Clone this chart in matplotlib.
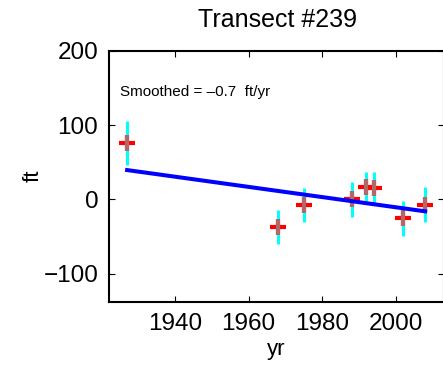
import matplotlib
matplotlib.use("Agg")
import numpy as np
from matplotlib import pyplot as plt

plt.rcParams["font.family"] = ["Liberation Sans", "DejaVu Sans"]

# shoreline positions per survey year
years = [1927, 1968, 1975, 1988, 1992, 1994, 2002, 2008]
position_ft = [76, -37, -8, 0, 17, 16, -25, -7]
error_ft = [30, 23, 23, 23, 20, 21, 23.5, 23.5]

# smoothed rate line (endpoints)
trend_years = [1927, 2008]
trend_ft = [39.5, -16]
rate_label = "Smoothed = \u20130.7  ft/yr"

fig = plt.figure(figsize=(4.43, 3.72), dpi=100)
ax = fig.add_axes([0.2467, 0.189, 0.7545, 0.6747])

ax.errorbar(years, position_ft, yerr=error_ft, fmt="none",
            ecolor="cyan", elinewidth=2.2, capsize=0, zorder=2)
ax.plot(years, position_ft, "+", color="red", markersize=12, mew=3, zorder=3)
ax.plot(years, position_ft, "|", color="#9a8c8c", markersize=11, mew=3,
        alpha=0.75, zorder=4)
ax.plot(trend_years, trend_ft, color="blue", lw=2.9, zorder=5)

ax.set_xlim(1922.15, 2013)
ax.set_ylim(-137.5, 200)
ax.set_xticks([1940, 1960, 1980, 2000])
ax.set_yticks([-100, 0, 100, 200])

ax.tick_params(direction="in", length=4, width=0.8, top=True, right=True,
               labelsize=17.5, pad=8)
for s in ax.spines.values():
    s.set_linewidth(1.5)

ax.text(0.032, 0.837, rate_label, transform=ax.transAxes,
        fontsize=11, ha="left", va="center")

ax.set_xlabel("yr", fontsize=16, va="center")
ax.xaxis.set_label_coords(0.5, -0.192)
ax.set_ylabel("ft", fontsize=16, va="center")
ax.yaxis.set_label_coords(-0.229, 0.5)
ax.set_title("Transect #239", fontsize=18, x=0.5026, y=1.122, va="center", pad=0)

fig.savefig("out.png", dpi=100)
